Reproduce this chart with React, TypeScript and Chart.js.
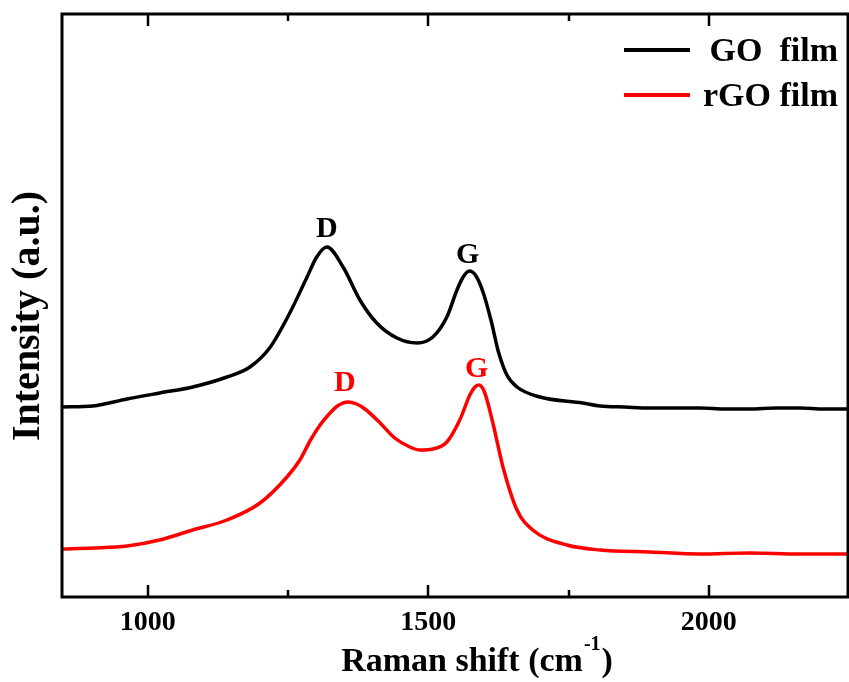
import React, { useEffect, useRef } from "react";
import { Chart, registerables } from "chart.js";

Chart.register(...registerables);

// Raman shift (cm^-1) and intensity (a.u.)
const goShift = [847, 902, 963, 1021, 1080, 1141, 1182, 1217, 1253, 1283, 1301, 1319, 1348, 1378, 1408, 1444, 1480, 1508, 1533, 1551, 1562, 1573, 1585, 1598, 1612, 1625, 1640, 1658, 1699, 1775, 1806, 1850, 1895, 1940, 1984, 2030, 2073, 2120, 2162, 2205, 2248];
const goIntensity = [190, 191, 198, 204, 210, 220, 230, 249, 284, 319, 340, 350, 330, 297, 274, 259, 254, 260, 280, 307, 320, 326, 321, 304, 276, 245, 222, 210, 200, 194, 191, 190, 189, 189, 189, 188, 188, 189, 189, 188, 188];

const rgoShift = [847, 902, 963, 1021, 1080, 1141, 1200, 1248, 1271, 1290, 1307, 1320, 1338, 1357, 1372, 1387, 1414, 1440, 1467, 1485, 1508, 1533, 1556, 1574, 1583, 1590, 1600, 1615, 1633, 1658, 1686, 1747, 1806, 1895, 1984, 2073, 2162, 2248];
const rgoIntensity = [48, 49, 51, 57, 67, 77, 94, 120, 137, 157, 172, 181, 191, 195, 193, 188, 174, 159, 150, 147, 148, 155, 177, 202, 210, 212, 205, 174, 130, 87, 67, 52, 47, 45, 43, 44, 43, 43];

const seriesNames = ["GO  film", "rGO film"];
const seriesColors = ["#000000", "#ff0000"];

const xMin = 847;
const xMax = 2248;
const yMin = 0;
const yMax = 583;
const majorTicks = [1000, 1500, 2000];
const minorTicks = [1250, 1750];

// peak annotations: text, shift, intensity (baseline), colour index
const peakText = ["D", "G", "D", "G"];
const peakShift = [1319, 1570, 1351, 1586];
const peakIntensity = [360, 334, 206, 220];
const peakSeries = [0, 0, 1, 1];

const xTitle = "Raman shift (cm";
const xTitleSup = "-1";
const xTitleEnd = ")";
const yTitle = "Intensity (a.u.)";

const FONT = "'Liberation Serif', 'Times New Roman', serif";

const overlay = {
  id: "overlay",
  afterDraw(chart: any) {
    const { ctx, chartArea: a, scales } = chart;
    const xs = scales.x;
    const ys = scales.y;
    ctx.save();
    // frame
    ctx.strokeStyle = "#000";
    ctx.lineWidth = 3;
    ctx.strokeRect(a.left, a.top, a.right - a.left, a.bottom - a.top);
    // inward ticks, bottom and top
    ctx.lineWidth = 2.5;
    const all = [...majorTicks.map((v) => [v, 12]), ...minorTicks.map((v) => [v, 7])];
    for (const [v, len] of all) {
      const px = Math.round(xs.getPixelForValue(v));
      ctx.beginPath();
      ctx.moveTo(px, a.bottom);
      ctx.lineTo(px, a.bottom - len);
      ctx.moveTo(px, a.top);
      ctx.lineTo(px, a.top + len);
      ctx.stroke();
    }
    // peak labels
    ctx.font = `bold 30px ${FONT}`;
    ctx.textAlign = "center";
    ctx.textBaseline = "alphabetic";
    for (let i = 0; i < peakText.length; i++) {
      ctx.fillStyle = seriesColors[peakSeries[i]];
      ctx.fillText(peakText[i], xs.getPixelForValue(peakShift[i]), ys.getPixelForValue(peakIntensity[i]));
    }
    // legend
    const rows = [50, 95];
    for (let i = 0; i < seriesNames.length; i++) {
      ctx.strokeStyle = seriesColors[i];
      ctx.lineWidth = 4;
      ctx.beginPath();
      ctx.moveTo(624, rows[i]);
      ctx.lineTo(690, rows[i]);
      ctx.stroke();
      ctx.fillStyle = "#000";
      ctx.font = `bold 34px ${FONT}`;
      ctx.textAlign = "right";
      ctx.textBaseline = "alphabetic";
      ctx.fillText(seriesNames[i], 838, rows[i] + 11);
    }
    // x title with superscript
    ctx.fillStyle = "#000";
    ctx.textAlign = "left";
    ctx.font = `bold 34px ${FONT}`;
    const w1 = ctx.measureText(xTitle).width;
    const w3 = ctx.measureText(xTitleEnd).width;
    ctx.font = `bold 20px ${FONT}`;
    const w2 = ctx.measureText(xTitleSup).width;
    const total = w1 + w2 + w3 + 2;
    let sx = 477 - total / 2;
    const base = 671;
    ctx.font = `bold 34px ${FONT}`;
    ctx.fillText(xTitle, sx, base);
    sx += w1 + 1;
    ctx.font = `bold 20px ${FONT}`;
    ctx.fillText(xTitleSup, sx, base - 21);
    sx += w2 + 1;
    ctx.font = `bold 34px ${FONT}`;
    ctx.fillText(xTitleEnd, sx, base);
    // y title
    ctx.translate(29, 316);
    ctx.rotate(-Math.PI / 2);
    ctx.font = `bold 40px ${FONT}`;
    ctx.textAlign = "center";
    ctx.textBaseline = "middle";
    ctx.fillText(yTitle, 0, 0);
    ctx.restore();
  },
};

export default function App() {
  const ref = useRef<HTMLCanvasElement | null>(null);
  useEffect(() => {
    if (!ref.current) return;
    const toPts = (xs: number[], ys: number[]) => xs.map((x, i) => ({ x, y: ys[i] }));
    const chart = new Chart(ref.current, {
      type: "line",
      data: {
        datasets: [
          {
            label: seriesNames[0],
            data: toPts(goShift, goIntensity),
            borderColor: seriesColors[0],
            borderWidth: 3.5,
            pointRadius: 0,
            cubicInterpolationMode: "monotone",
            fill: false,
          },
          {
            label: seriesNames[1],
            data: toPts(rgoShift, rgoIntensity),
            borderColor: seriesColors[1],
            borderWidth: 3.5,
            pointRadius: 0,
            cubicInterpolationMode: "monotone",
            fill: false,
          },
        ],
      },
      options: {
        animation: false,
        responsive: false,
        parsing: false,
        layout: { padding: { left: 62, top: 14, right: 1, bottom: 0 } },
        plugins: { legend: { display: false }, tooltip: { enabled: false } },
        scales: {
          x: {
            type: "linear",
            min: xMin,
            max: xMax,
            grid: { display: false, drawTicks: false },
            border: { display: false },
            ticks: {
              stepSize: 250,
              includeBounds: false,
              autoSkip: false,
              maxRotation: 0,
              padding: 9,
              color: "#000",
              font: { family: FONT, size: 28, weight: "bold" },
              callback: (v: any) => (majorTicks.includes(Number(v)) ? String(v) : ""),
            },
            afterFit: (s: any) => {
              s.height = 85;
            },
          },
          y: {
            type: "linear",
            min: yMin,
            max: yMax,
            display: false,
          },
        },
      },
      plugins: [overlay],
    });
    return () => chart.destroy();
  }, []);
  return (
    <div style={{ position: "fixed", left: 0, top: 0, width: 849, height: 682, background: "#fff" }}>
      <canvas ref={ref} width={849} height={682} style={{ display: "block" }} />
    </div>
  );
}
